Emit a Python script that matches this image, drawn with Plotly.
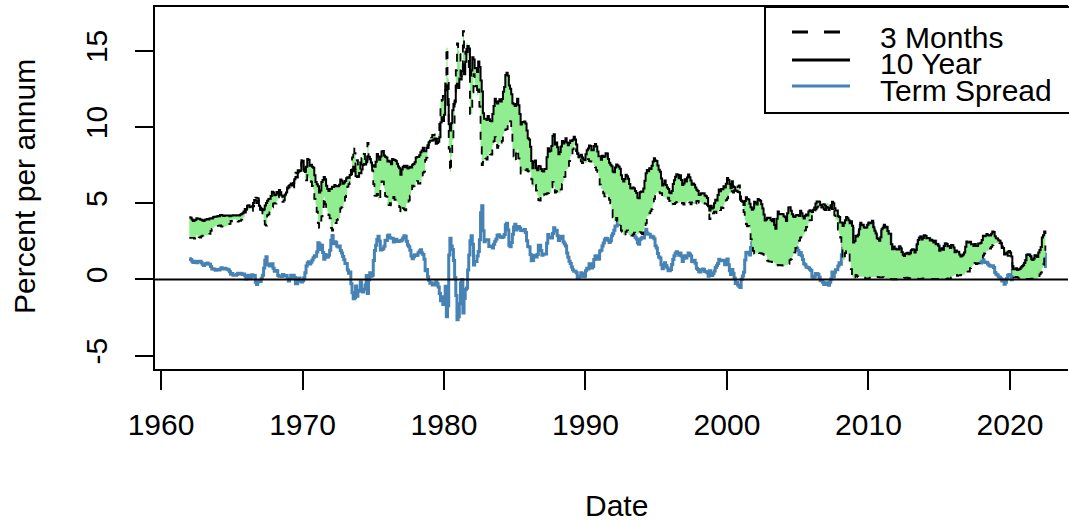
import plotly.graph_objects as go

# ---------------- data (monthly, Jan 1962 - Jul 2022), percent per annum ----------------
start_year = 1962

ten_year_rows = [
    [4.08, 4.04, 3.93, 3.84, 3.87, 3.91, 4.01, 3.98, 3.98, 3.93, 3.92, 3.86],  # 1962
    [3.83, 3.92, 3.93, 3.97, 3.93, 3.99, 4.02, 4.00, 4.08, 4.11, 4.12, 4.13],
    [4.17, 4.15, 4.22, 4.23, 4.20, 4.17, 4.19, 4.19, 4.20, 4.19, 4.15, 4.18],
    [4.19, 4.21, 4.21, 4.20, 4.21, 4.21, 4.20, 4.25, 4.29, 4.35, 4.45, 4.62],
    [4.61, 4.83, 4.87, 4.75, 4.78, 4.81, 5.02, 5.22, 5.18, 5.01, 5.16, 4.84],
    [4.58, 4.63, 4.54, 4.59, 4.85, 5.02, 5.16, 5.28, 5.30, 5.48, 5.75, 5.70],
    [5.53, 5.56, 5.74, 5.64, 5.87, 5.72, 5.50, 5.42, 5.46, 5.58, 5.70, 6.03],
    [6.04, 6.19, 6.30, 6.17, 6.32, 6.57, 6.72, 6.69, 7.16, 7.10, 7.14, 7.65],
    [7.79, 7.24, 7.07, 7.39, 7.91, 7.84, 7.46, 7.53, 7.39, 7.33, 6.84, 6.39],  # 1970
    [6.24, 6.11, 5.70, 5.83, 6.39, 6.52, 6.73, 6.58, 6.14, 5.93, 5.81, 5.93],
    [5.95, 6.08, 6.07, 6.19, 6.13, 6.11, 6.11, 6.21, 6.55, 6.48, 6.28, 6.36],
    [6.46, 6.64, 6.71, 6.67, 6.85, 6.90, 7.13, 7.40, 7.09, 6.79, 6.73, 6.74],
    [6.99, 6.96, 7.21, 7.51, 7.58, 7.54, 7.81, 8.04, 8.04, 7.90, 7.68, 7.43],
    [7.50, 7.39, 7.73, 8.23, 8.06, 7.86, 8.06, 8.40, 8.43, 8.14, 8.05, 8.00],
    [7.74, 7.79, 7.73, 7.56, 7.90, 7.86, 7.83, 7.77, 7.59, 7.41, 7.29, 6.87],
    [7.21, 7.39, 7.46, 7.37, 7.46, 7.28, 7.33, 7.40, 7.34, 7.52, 7.58, 7.69],
    [8.01, 8.03, 8.04, 8.15, 8.35, 8.46, 8.64, 8.41, 8.42, 8.64, 8.81, 9.01],
    [9.10, 9.10, 9.12, 9.18, 9.25, 8.91, 8.95, 9.03, 9.33, 10.30, 10.65, 10.39],
    [10.80, 12.41, 12.75, 11.47, 10.18, 9.78, 10.25, 11.10, 11.51, 11.75, 12.68, 12.84],  # 1980
    [12.57, 13.19, 13.12, 13.68, 14.10, 13.47, 14.28, 14.94, 15.32, 15.15, 13.39, 13.72],
    [14.59, 14.43, 13.86, 13.87, 13.62, 14.30, 13.95, 13.06, 12.34, 10.91, 10.55, 10.54],
    [10.46, 10.72, 10.51, 10.40, 10.38, 10.85, 11.38, 11.85, 11.65, 11.54, 11.69, 11.83],
    [11.67, 11.84, 12.32, 12.63, 13.41, 13.56, 13.36, 12.72, 12.52, 12.16, 11.57, 11.50],
    [11.38, 11.51, 11.86, 11.43, 10.85, 10.16, 10.31, 10.33, 10.37, 10.24, 9.78, 9.26],
    [9.19, 8.70, 7.78, 7.30, 7.71, 7.80, 7.30, 7.17, 7.45, 7.43, 7.25, 7.11],
    [7.08, 7.25, 7.25, 8.02, 8.61, 8.40, 8.45, 8.76, 9.42, 9.52, 8.86, 8.99],
    [8.67, 8.21, 8.37, 8.72, 9.09, 8.92, 9.06, 9.26, 8.98, 8.80, 8.96, 9.11],
    [9.09, 9.17, 9.36, 9.18, 8.86, 8.28, 8.02, 8.11, 8.19, 8.01, 7.87, 7.84],
    [8.21, 8.47, 8.59, 8.79, 8.76, 8.48, 8.47, 8.75, 8.89, 8.72, 8.39, 8.08],  # 1990
    [8.09, 7.85, 8.11, 8.04, 8.07, 8.28, 8.27, 7.90, 7.65, 7.53, 7.42, 7.09],
    [7.03, 7.34, 7.54, 7.48, 7.39, 7.26, 6.84, 6.59, 6.42, 6.59, 6.87, 6.77],
    [6.60, 6.26, 5.98, 5.97, 6.04, 5.96, 5.81, 5.68, 5.36, 5.33, 5.72, 5.77],
    [5.75, 5.97, 6.48, 6.97, 7.18, 7.10, 7.30, 7.24, 7.46, 7.74, 7.96, 7.81],
    [7.78, 7.47, 7.20, 7.06, 6.63, 6.17, 6.28, 6.49, 6.20, 6.04, 5.93, 5.71],
    [5.65, 5.81, 6.27, 6.51, 6.74, 6.91, 6.87, 6.64, 6.83, 6.53, 6.20, 6.30],
    [6.58, 6.42, 6.69, 6.89, 6.71, 6.49, 6.22, 6.30, 6.21, 6.03, 5.88, 5.81],
    [5.54, 5.57, 5.65, 5.64, 5.65, 5.50, 5.46, 5.34, 4.81, 4.53, 4.83, 4.65],
    [4.72, 5.00, 5.23, 5.18, 5.54, 5.90, 5.79, 5.94, 5.92, 6.11, 6.03, 6.28],
    [6.66, 6.52, 6.26, 5.99, 6.44, 6.10, 6.05, 5.83, 5.80, 5.74, 5.72, 5.24],  # 2000
    [5.16, 5.10, 4.89, 5.14, 5.39, 5.28, 5.24, 4.97, 4.73, 4.57, 4.65, 5.09],
    [5.04, 4.91, 5.28, 5.21, 5.16, 4.93, 4.65, 4.26, 3.87, 3.94, 4.05, 4.03],
    [4.05, 3.90, 3.81, 3.96, 3.57, 3.33, 3.98, 4.45, 4.27, 4.29, 4.30, 4.27],
    [4.15, 4.08, 3.83, 4.35, 4.72, 4.73, 4.50, 4.28, 4.13, 4.10, 4.19, 4.23],
    [4.22, 4.17, 4.50, 4.34, 4.14, 4.00, 4.18, 4.26, 4.20, 4.46, 4.54, 4.47],
    [4.42, 4.57, 4.72, 4.99, 5.11, 5.11, 5.09, 4.88, 4.72, 4.73, 4.60, 4.56],
    [4.76, 4.72, 4.56, 4.69, 4.75, 5.10, 5.00, 4.67, 4.52, 4.53, 4.15, 4.10],
    [3.74, 3.74, 3.51, 3.68, 3.88, 4.10, 4.01, 3.89, 3.69, 3.81, 3.53, 2.42],
    [2.52, 2.87, 2.82, 2.93, 3.29, 3.72, 3.56, 3.59, 3.40, 3.39, 3.40, 3.59],
    [3.73, 3.69, 3.73, 3.85, 3.42, 3.20, 3.01, 2.70, 2.65, 2.54, 2.76, 3.29],  # 2010
    [3.39, 3.58, 3.41, 3.46, 3.17, 3.00, 3.00, 2.30, 1.98, 2.15, 2.01, 1.98],
    [1.97, 1.97, 2.17, 2.05, 1.80, 1.62, 1.53, 1.68, 1.72, 1.75, 1.65, 1.72],
    [1.91, 1.98, 1.96, 1.76, 1.93, 2.30, 2.58, 2.74, 2.81, 2.62, 2.72, 2.90],
    [2.86, 2.71, 2.72, 2.71, 2.56, 2.60, 2.54, 2.42, 2.53, 2.30, 2.33, 2.21],
    [1.88, 1.98, 2.04, 1.94, 2.20, 2.36, 2.32, 2.17, 2.17, 2.07, 2.26, 2.24],
    [2.09, 1.78, 1.89, 1.81, 1.81, 1.64, 1.50, 1.56, 1.63, 1.76, 2.14, 2.49],
    [2.43, 2.42, 2.48, 2.30, 2.30, 2.19, 2.32, 2.21, 2.20, 2.36, 2.35, 2.40],
    [2.58, 2.86, 2.84, 2.87, 2.98, 2.91, 2.89, 2.89, 3.00, 3.15, 3.12, 2.83],
    [2.71, 2.68, 2.57, 2.53, 2.40, 2.07, 2.06, 1.63, 1.70, 1.71, 1.81, 1.86],
    [1.76, 1.50, 0.87, 0.66, 0.67, 0.73, 0.62, 0.65, 0.68, 0.79, 0.87, 0.93],  # 2020
    [1.08, 1.26, 1.61, 1.64, 1.62, 1.52, 1.32, 1.28, 1.37, 1.58, 1.56, 1.47],
    [1.76, 1.93, 2.13, 2.75, 2.90, 3.14, 2.98],
]

three_month_rows = [
    [2.72, 2.73, 2.72, 2.73, 2.68, 2.73, 2.92, 2.82, 2.78, 2.74, 2.83, 2.87],  # 1962
    [2.91, 2.92, 2.89, 2.90, 2.92, 2.99, 3.18, 3.32, 3.38, 3.45, 3.52, 3.52],
    [3.52, 3.53, 3.54, 3.47, 3.48, 3.48, 3.46, 3.50, 3.53, 3.57, 3.64, 3.84],
    [3.81, 3.93, 3.93, 3.93, 3.89, 3.80, 3.84, 3.84, 3.92, 4.03, 4.09, 4.38],
    [4.59, 4.65, 4.59, 4.62, 4.64, 4.50, 4.80, 4.96, 5.37, 5.35, 5.32, 4.96],
    [4.72, 4.56, 4.26, 3.84, 3.60, 3.54, 4.21, 4.27, 4.42, 4.56, 4.73, 4.97],
    [5.00, 4.98, 5.17, 5.38, 5.66, 5.52, 5.31, 5.09, 5.19, 5.35, 5.45, 5.96],
    [6.14, 6.12, 6.02, 6.11, 6.04, 6.44, 7.00, 6.98, 7.09, 7.00, 7.24, 7.82],
    [7.87, 7.13, 6.63, 6.51, 6.84, 6.68, 6.45, 6.41, 6.12, 5.91, 5.28, 4.87],  # 1970
    [4.44, 3.70, 3.38, 3.86, 4.14, 4.75, 5.40, 4.94, 4.69, 4.46, 4.22, 4.01],
    [3.38, 3.20, 3.73, 3.71, 3.69, 3.91, 3.98, 4.02, 4.66, 4.74, 4.78, 5.07],
    [5.41, 5.60, 6.09, 6.26, 6.36, 7.19, 8.01, 8.67, 8.29, 7.22, 7.83, 7.45],
    [7.77, 7.12, 7.96, 8.33, 8.23, 7.90, 7.55, 8.96, 8.06, 7.46, 7.47, 7.15],
    [6.26, 5.50, 5.49, 5.61, 5.23, 5.34, 6.13, 6.44, 6.42, 5.96, 5.48, 5.44],
    [4.87, 4.88, 5.00, 4.86, 5.20, 5.41, 5.23, 5.14, 5.08, 4.92, 4.75, 4.35],
    [4.62, 4.67, 4.60, 4.54, 4.96, 5.02, 5.19, 5.49, 5.81, 6.16, 6.10, 6.07],
    [6.44, 6.45, 6.29, 6.29, 6.41, 6.73, 7.01, 7.08, 7.85, 7.99, 8.64, 9.08],
    [9.35, 9.32, 9.48, 9.46, 9.61, 9.06, 9.24, 9.52, 10.26, 11.70, 11.79, 12.04],
    [12.00, 12.86, 15.20, 13.20, 8.58, 7.07, 8.06, 9.13, 10.27, 11.62, 13.73, 15.49],  # 1980
    [15.02, 14.79, 13.36, 13.69, 16.30, 14.73, 14.95, 15.51, 14.70, 13.54, 10.86, 10.85],
    [12.28, 13.48, 12.68, 12.70, 12.09, 12.47, 11.35, 8.68, 7.50, 7.71, 8.07, 7.94],
    [7.86, 8.11, 8.35, 8.21, 8.19, 8.79, 9.08, 9.34, 9.00, 8.64, 8.76, 9.00],
    [8.90, 9.09, 9.52, 9.69, 9.83, 9.87, 10.12, 10.47, 10.37, 9.74, 8.61, 8.06],
    [7.76, 8.27, 8.52, 7.95, 7.48, 6.95, 7.08, 7.14, 7.10, 7.16, 7.24, 7.10],
    [7.07, 7.06, 6.56, 6.06, 6.15, 6.21, 5.83, 5.53, 5.21, 5.18, 5.35, 5.53],
    [5.43, 5.59, 5.59, 5.64, 5.66, 5.67, 5.69, 6.04, 6.40, 6.13, 5.69, 5.77],
    [5.81, 5.66, 5.70, 5.91, 6.26, 6.46, 6.73, 7.06, 7.24, 7.35, 7.76, 8.07],
    [8.27, 8.53, 8.82, 8.65, 8.43, 8.15, 7.88, 7.90, 7.75, 7.64, 7.69, 7.63],
    [7.64, 7.74, 7.90, 7.77, 7.74, 7.73, 7.62, 7.45, 7.36, 7.17, 7.06, 6.74],  # 1990
    [6.22, 5.94, 5.91, 5.65, 5.46, 5.57, 5.58, 5.33, 5.22, 4.99, 4.56, 4.07],
    [3.80, 3.84, 4.04, 3.75, 3.63, 3.66, 3.21, 3.13, 2.91, 2.86, 3.13, 3.22],
    [3.00, 2.93, 2.95, 2.87, 2.96, 3.07, 3.04, 3.02, 2.95, 3.02, 3.10, 3.06],
    [2.98, 3.25, 3.50, 3.68, 4.14, 4.14, 4.33, 4.48, 4.62, 4.95, 5.29, 5.60],
    [5.71, 5.77, 5.73, 5.65, 5.67, 5.47, 5.42, 5.40, 5.28, 5.28, 5.36, 5.14],
    [5.00, 4.83, 4.96, 4.95, 5.02, 5.09, 5.15, 5.05, 5.09, 4.99, 5.03, 4.91],
    [5.03, 5.01, 5.14, 5.16, 5.05, 4.93, 5.05, 5.14, 4.95, 4.97, 5.14, 5.16],
    [5.04, 5.09, 5.03, 4.95, 5.00, 4.98, 4.96, 4.90, 4.61, 3.96, 4.41, 4.39],
    [4.34, 4.44, 4.44, 4.29, 4.50, 4.57, 4.55, 4.72, 4.68, 4.86, 5.07, 5.20],
    [5.32, 5.55, 5.69, 5.66, 5.79, 5.69, 5.96, 6.09, 6.00, 6.11, 6.17, 5.77],  # 2000
    [5.15, 4.88, 4.42, 3.87, 3.62, 3.49, 3.51, 3.36, 2.64, 2.16, 1.87, 1.69],
    [1.65, 1.73, 1.79, 1.72, 1.73, 1.70, 1.68, 1.62, 1.63, 1.58, 1.23, 1.19],
    [1.17, 1.17, 1.13, 1.13, 1.07, 0.92, 0.90, 0.95, 0.94, 0.92, 0.93, 0.90],
    [0.88, 0.93, 0.94, 0.94, 1.02, 1.27, 1.33, 1.48, 1.65, 1.76, 2.07, 2.19],
    [2.33, 2.54, 2.74, 2.78, 2.84, 2.97, 3.22, 3.44, 3.42, 3.71, 3.88, 3.89],
    [4.24, 4.43, 4.51, 4.60, 4.72, 4.79, 4.95, 4.96, 4.81, 4.92, 4.94, 4.85],
    [4.98, 5.03, 4.94, 4.87, 4.73, 4.61, 4.82, 4.20, 3.89, 3.90, 3.27, 3.00],
    [2.75, 2.12, 1.26, 1.29, 1.73, 1.86, 1.63, 1.72, 1.13, 0.67, 0.19, 0.03],
    [0.13, 0.30, 0.22, 0.16, 0.18, 0.18, 0.18, 0.17, 0.12, 0.07, 0.05, 0.05],
    [0.06, 0.11, 0.15, 0.16, 0.16, 0.12, 0.16, 0.16, 0.15, 0.13, 0.14, 0.14],  # 2010
    [0.15, 0.13, 0.10, 0.06, 0.04, 0.04, 0.04, 0.02, 0.01, 0.02, 0.01, 0.01],
    [0.03, 0.09, 0.08, 0.08, 0.09, 0.09, 0.10, 0.10, 0.11, 0.10, 0.09, 0.07],
    [0.07, 0.10, 0.09, 0.06, 0.04, 0.05, 0.04, 0.04, 0.02, 0.05, 0.07, 0.07],
    [0.04, 0.05, 0.05, 0.03, 0.03, 0.04, 0.03, 0.03, 0.02, 0.02, 0.02, 0.03],
    [0.03, 0.02, 0.03, 0.02, 0.02, 0.02, 0.03, 0.07, 0.02, 0.02, 0.12, 0.23],
    [0.26, 0.31, 0.29, 0.23, 0.27, 0.27, 0.30, 0.30, 0.29, 0.33, 0.45, 0.51],
    [0.51, 0.52, 0.74, 0.79, 0.90, 0.99, 1.09, 1.01, 1.03, 1.07, 1.23, 1.32],
    [1.41, 1.57, 1.70, 1.76, 1.86, 1.90, 1.96, 2.03, 2.13, 2.25, 2.33, 2.37],
    [2.37, 2.39, 2.40, 2.38, 2.35, 2.17, 2.10, 1.95, 1.89, 1.65, 1.54, 1.54],
    [1.52, 1.52, 0.29, 0.14, 0.13, 0.16, 0.13, 0.10, 0.11, 0.10, 0.09, 0.09],  # 2020
    [0.08, 0.04, 0.03, 0.02, 0.02, 0.04, 0.05, 0.05, 0.04, 0.05, 0.05, 0.06],
    [0.15, 0.33, 0.44, 0.76, 0.98, 1.49, 2.23],
]

x_tick_vals = [1960, 1970, 1980, 1990, 2000, 2010, 2020]
y_tick_vals = [-5, 0, 5, 10, 15]
legend_labels = ["3 Months", "10 Year", "Term Spread"]

# ---------------- prepare ----------------
for r in ten_year_rows[:-1] + three_month_rows[:-1]:
    assert len(r) == 12, r
ten_year = [v for row in ten_year_rows for v in row]
three_month = [v for row in three_month_rows for v in row]
assert len(ten_year) == len(three_month)
dates = [start_year + i / 12 for i in range(len(ten_year))]
spread = [round(a - b, 2) for a, b in zip(ten_year, three_month)]

W, H = 1069, 521
ML, MR, MT, MB = 155, 1, 7, 152
PW, PH = W - ML - MR, H - MT - MB
FONT = "Liberation Sans, Arial, Helvetica, sans-serif"
FS = 30
GREEN = "#90EE90"
BLUE = "#4682B4"


def px_x(px):
    return (px - ML) / PW


def px_y(py):
    return (MT + PH - py) / PH


fig = go.Figure()
# term spread drawn first: the green band is painted over it
fig.add_trace(go.Scatter(x=dates, y=spread, mode="lines", name="Term Spread",
                         line=dict(color=BLUE, width=3, shape="hv"), showlegend=False))
fig.add_trace(go.Scatter(x=dates, y=three_month, mode="lines",
                         line=dict(width=0, shape="hv"), showlegend=False, hoverinfo="skip"))
fig.add_trace(go.Scatter(x=dates, y=ten_year, mode="lines", fill="tonexty", fillcolor=GREEN,
                         line=dict(width=0, shape="hv"), showlegend=False, hoverinfo="skip"))
fig.add_trace(go.Scatter(x=dates, y=ten_year, mode="lines", name="10 Year",
                         line=dict(color="black", width=2, shape="hv"), showlegend=False))
fig.add_trace(go.Scatter(x=dates, y=three_month, mode="lines", name="3 Months",
                         line=dict(color="black", width=1.8, shape="hv", dash="8px,8px"),
                         showlegend=False))

axis_font = dict(family=FONT, size=FS, color="black")
fig.update_layout(
    width=W, height=H,
    margin=dict(l=ML, r=MR, t=MT, b=MB, pad=0),
    paper_bgcolor="white", plot_bgcolor="white",
    font=axis_font,
    showlegend=False,
    xaxis=dict(range=[1959.576, 2024.1], tickvals=x_tick_vals,
               ticktext=[str(v) for v in x_tick_vals],
               ticks="outside", ticklen=19, tickwidth=2, tickcolor="black",
               showline=True, linecolor="black", linewidth=2, mirror=True,
               showgrid=False, zeroline=False, tickfont=axis_font,
               ticklabelstandoff=9),
    yaxis=dict(range=[-5.88, 17.88], tickvals=y_tick_vals,
               ticktext=[str(v) for v in y_tick_vals], tickangle=-90,
               ticks="outside", ticklen=18, tickwidth=2, tickcolor="black",
               showline=True, linecolor="black", linewidth=2, mirror=False,
               showgrid=False, zeroline=False, tickfont=axis_font,
               ticklabelstandoff=16),
)

shapes = [
    dict(type="line", xref="paper", yref="y", x0=0, x1=1, y0=0, y1=0,
         line=dict(color="black", width=2), layer="above"),
    dict(type="rect", xref="paper", yref="paper", x0=px_x(765), x1=1.05,
         y0=px_y(113), y1=1.0, line=dict(color="black", width=2),
         fillcolor="white", layer="above"),
]
legend_styles = [
    dict(color="black", width=3, dash="16px,16px"),
    dict(color="black", width=3),
    dict(color=BLUE, width=3),
]
legend_line_y = [32, 60, 86]
legend_text_y = [37, 64, 90]
for st, ly in zip(legend_styles, legend_line_y):
    shapes.append(dict(type="line", xref="paper", yref="paper",
                       x0=px_x(792), x1=px_x(850), y0=px_y(ly), y1=px_y(ly),
                       line=st, layer="above"))

annotations = []
for lbl, ty in zip(legend_labels, legend_text_y):
    annotations.append(dict(text=lbl, xref="paper", yref="paper", x=px_x(878), y=px_y(ty),
                            xanchor="left", yanchor="middle", showarrow=False,
                            font=dict(family=FONT, size=FS, color="black")))
annotations.append(dict(text="Date", xref="paper", yref="paper", x=px_x(616), y=px_y(505),
                        xanchor="center", yanchor="middle", showarrow=False,
                        font=dict(family=FONT, size=FS, color="black")))
annotations.append(dict(text="Percent per annum", xref="paper", yref="paper", x=px_x(25),
                        y=px_y(187), textangle=-90, xanchor="center", yanchor="middle",
                        showarrow=False, font=dict(family=FONT, size=FS, color="black")))

fig.update_layout(shapes=shapes, annotations=annotations)
fig.write_html("out.html")
